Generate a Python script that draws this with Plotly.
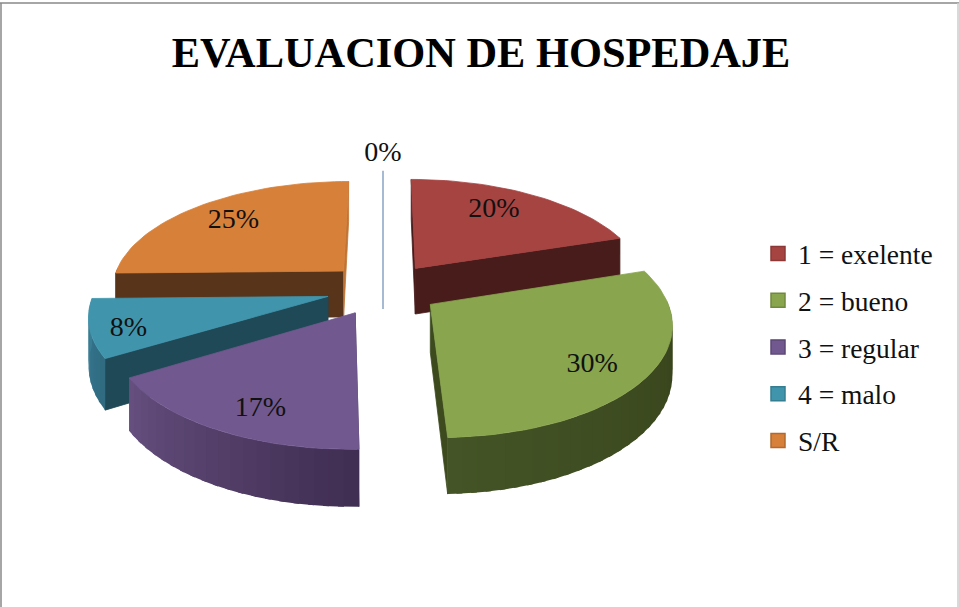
import math

import plotly.graph_objects as go

# values (labels show them rounded)
categories = ['1 = exelente', '2 = bueno', '3 = regular', '4 = malo', 'S/R', '']
values = [20, 29.5, 16.8, 8.4, 25.3, 0]
title_text = 'EVALUACION DE HOSPEDAJE'

top_colors = ['#a64442', '#89a54e', '#71588f', '#4095ad', '#d7803a', '#8aa3c6']
inner_colors = ['#471c1a', '#3c4a1e', '#4a3960', '#1f4957', '#57341a', '#8aa3c6']
end_colors = ['#471c1a', '#3c4a1e', '#4a3960', '#1f4957', '#c07534', '#8aa3c6']
wall_from = ['#471c1a', '#37421b', '#3f2d52', '#2f6a80', '#57341a', '#8aa3c6']
wall_to = ['#471c1a', '#445426', '#66507f', '#3a7f96', '#57341a', '#8aa3c6']
legend_edges = ['#8c3836', '#71893f', '#5c4776', '#357d91', '#b3692d']

label_radius = [0.74, 0.79, 0.81, 0.85, 0.75, 1.30]
label_turn = [-4, 4, -4, -3, 0, 0]

# projection of the tilted pie
CX, CY = 383, 289
RX, RY = 233, 108
PULL = 0.243
DEPTH = 47
PERSP = 0.15


def project(px, py, down=0):
    s = 1 / (1 - PERSP * py)
    return CX + RX * px * s, CY + RY * py * s + down * s


def rim(theta, cx, cy, r=1.0, down=0):
    a = math.radians(theta)
    return project(cx + r * math.sin(a), cy - r * math.cos(a), down)


def mix(c0, c1, f):
    a = [int(c0[i:i + 2], 16) for i in (1, 3, 5)]
    b = [int(c1[i:i + 2], 16) for i in (1, 3, 5)]
    return '#%02x%02x%02x' % tuple(round(u + (v - u) * f) for u, v in zip(a, b))


def poly(points, color, width=0.8):
    return go.Scatter(
        x=[p[0] for p in points] + [points[0][0]],
        y=[p[1] for p in points] + [points[0][1]],
        mode='lines', fill='toself', fillcolor=color,
        line=dict(color=color, width=width),
        hoverinfo='skip', showlegend=False,
    )


fig = go.Figure()

total = sum(values)
starts = []
acc = 0
for v in values:
    starts.append(acc)
    acc += v / total * 360

# back to front
draw_order = [4, 5, 0, 3, 2, 1]
label_x, label_y, label_text = [], [], []

for i in draw_order:
    t0 = starts[i]
    t1 = t0 + values[i] / total * 360
    mid = (t0 + t1) / 2
    ax = PULL * math.sin(math.radians(mid))
    ay = -PULL * math.cos(math.radians(mid))

    x, y = rim(mid + label_turn[i], ax, ay, label_radius[i])
    label_x.append(x)
    label_y.append(y)
    label_text.append('%d%%' % round(values[i]))

    if values[i] == 0:
        # empty slice only shows as a thin line
        a = rim(t0, ax, ay)
        b = project(ax, ay, DEPTH)
        fig.add_trace(go.Scatter(x=[a[0], b[0]], y=[a[1] - 5, b[1]], mode='lines',
                                 line=dict(color=top_colors[i], width=1.5),
                                 hoverinfo='skip', showlegend=False))
        continue

    apex = project(ax, ay)
    apex_low = project(ax, ay, DEPTH)

    # flat sides
    if math.sin(math.radians(t0)) < 0.05:
        fig.add_trace(poly([apex, rim(t0, ax, ay), rim(t0, ax, ay, down=DEPTH), apex_low], inner_colors[i]))
    if math.sin(math.radians(t1)) > -0.05:
        color = inner_colors[i] if t1 < 300 else end_colors[i]
        fig.add_trace(poly([apex, rim(t1, ax, ay), rim(t1, ax, ay, down=DEPTH), apex_low], color))

    # curved outer wall, in strips for the shading
    w0, w1 = max(t0, 88), min(t1, 272)
    if w1 > w0:
        n = max(2, int((w1 - w0) / 3))
        for k in range(n):
            a0 = w0 + (w1 - w0) * k / n
            a1 = w0 + (w1 - w0) * (k + 1.4) / n if k < n - 1 else w1
            fig.add_trace(poly([rim(a0, ax, ay), rim(a1, ax, ay), rim(a1, ax, ay, down=DEPTH), rim(a0, ax, ay, down=DEPTH)],
                               mix(wall_from[i], wall_to[i], (k + 0.5) / n), width=0))

    # top face
    n = max(4, int((t1 - t0) / 2))
    top = [apex] + [rim(t0 + (t1 - t0) * k / n, ax, ay) for k in range(n + 1)]
    fig.add_trace(poly(top, top_colors[i]))

fig.add_trace(go.Scatter(x=label_x, y=label_y, text=label_text, mode='text',
                         textposition='middle center',
                         textfont=dict(family='Liberation Serif', size=28, color='#111111'),
                         hoverinfo='skip', showlegend=False))

# legend entries
for name, color, edge in zip(categories[:5], top_colors, legend_edges):
    fig.add_trace(go.Scatter(x=[None], y=[None], mode='markers', name=name, legendgroup=name,
                             marker=dict(symbol='square', size=14, color=color, line=dict(color=edge, width=1.5))))

fig.update_layout(
    width=959, height=607,
    margin=dict(l=0, r=0, t=0, b=0),
    paper_bgcolor='white', plot_bgcolor='white',
    xaxis=dict(range=[0, 959], visible=False, fixedrange=True),
    yaxis=dict(range=[607, 0], visible=False, fixedrange=True),
    title=dict(text='<b>%s</b>' % title_text, x=481 / 959, xanchor='center', y=1 - 52 / 607, yanchor='middle',
               font=dict(family='Liberation Serif', size=42.4, color='#000000')),
    legend=dict(x=758 / 959, xanchor='left', y=1 - 229 / 607, yanchor='top', tracegroupgap=8,
                font=dict(family='Liberation Serif', size=27.5, color='#111111'),
                bgcolor='rgba(0,0,0,0)', itemclick=False, itemdoubleclick=False),
    shapes=[
        dict(type='line', xref='x', yref='y', x0=0, x1=959, y0=3, y1=3, line=dict(color='#888888', width=1.5)),
        dict(type='line', xref='x', yref='y', x0=1, x1=1, y0=3, y1=607, line=dict(color='#888888', width=1.5)),
        dict(type='line', xref='x', yref='y', x0=958, x1=958, y0=3, y1=607, line=dict(color='#cccccc', width=1.5)),
    ],
)

fig.write_html('out.html', config={'displayModeBar': False},
               post_script="document.body.style.margin='0';document.body.style.overflow='hidden';")
